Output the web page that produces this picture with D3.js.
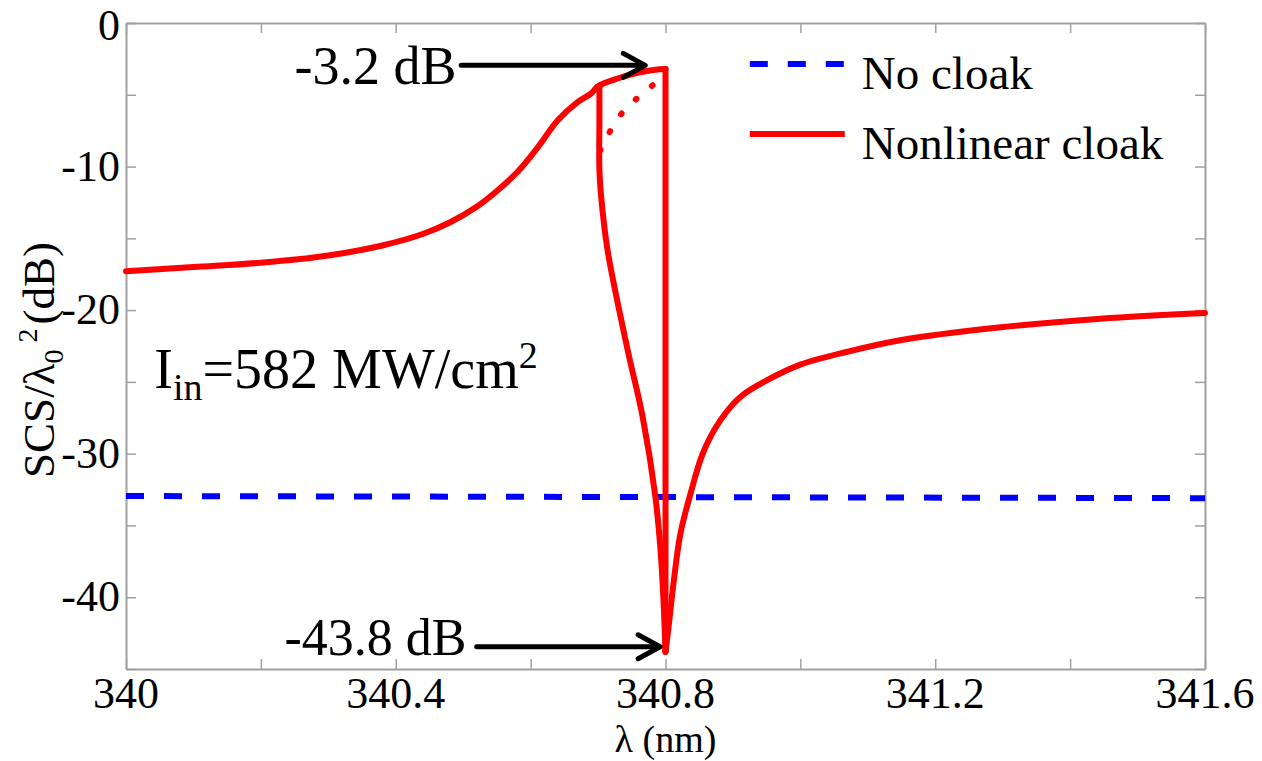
<!DOCTYPE html>
<html>
<head>
<meta charset="utf-8">
<script src="https://cdn.jsdelivr.net/npm/d3@7"></script>
<style>
  body { margin: 0; background: #fff; }
  svg { display: block; }
  text { font-family: "Liberation Serif", "Times New Roman", serif; fill: #000; }
</style>
</head>
<body>
<svg id="chart"></svg>
<script>
// upper (stable, high-scattering) branch, going up in wavelength
const upperLambda = [340, 340.1, 340.2, 340.3, 340.38, 340.44, 340.48, 340.52, 340.55, 340.58, 340.61, 340.64, 340.67, 340.69, 340.70, 340.73, 340.76, 340.785, 340.8];
const upperDb = [-17.3, -17.0, -16.7, -16.2, -15.5, -14.7, -13.9, -12.8, -11.7, -10.4, -8.7, -6.8, -5.5, -4.9, -4.4, -3.85, -3.45, -3.25, -3.2];

// jump down at 340.8
const jumpLambda = [340.8, 340.8];
const jumpDb = [-3.2, -43.8];

// after the jump, to the right
const rightLambda = [340.8, 340.804, 340.808, 340.813, 340.822, 340.837, 340.856, 340.881, 340.911, 340.95, 341.0, 341.07, 341.148, 341.297, 341.445, 341.6];
const rightDb = [-43.8, -42.3, -40.6, -38.6, -35.6, -32.8, -29.9, -27.7, -26.05, -24.9, -23.8, -22.9, -22.1, -21.2, -20.6, -20.2];

// lower branch going back down in wavelength
const lowerLambda = [340.8, 340.797, 340.7926, 340.785, 340.766, 340.744, 340.714, 340.705, 340.702, 340.702, 340.702];
const lowerDb = [-43.8, -40.2, -36.7, -33.0, -27.4, -22.8, -15.8, -12.3, -10.2, -6.8, -4.4];

// unstable branch (dotted)
const unstableLambda = [340.703, 340.73, 340.76, 340.79, 340.8];
const unstableDb = [-8.9, -6.6, -5.15, -3.95, -3.3];

const noCloakLambda = [340, 341.6];
const noCloakDb = [-32.95, -33.1];

const xTickValues = [340, 340.2, 340.4, 340.6, 340.8, 341, 341.2, 341.4, 341.6];
const xTickLabels = [340, 340.4, 340.8, 341.2, 341.6];
const yTickValues = [0, -5, -10, -15, -20, -25, -30, -35, -40, -45];
const yTickLabels = [0, -10, -20, -30, -40];

const legendNames = ["No cloak", "Nonlinear cloak"];

const margin = {top: 23, right: 57, bottom: 92, left: 126},
  width = 1262 - margin.left - margin.right,
  height = 761 - margin.top - margin.bottom;

const svgRoot = d3.select("#chart")
  .attr("width", 1262)
  .attr("height", 761);

const svg = svgRoot.append("g")
  .attr("transform", "translate(" + margin.left + "," + margin.top + ")");

const x = d3.scaleLinear().domain([340, 341.6]).range([0, width]);
const y = d3.scaleLinear().domain([-45, 0]).range([height, 0]);

const zip = (a, b) => a.map((v, i) => [v, b[i]]);

const line = d3.line()
  .x(d => x(d[0]))
  .y(d => y(d[1]))
  .curve(d3.curveCatmullRom.alpha(0.5));

const straight = d3.line()
  .x(d => x(d[0]))
  .y(d => y(d[1]));

// ticks inside the box, all four sides
const tickLen = 10;
const grey = "#a0a0a0";
const axes = svg.append("g");

axes.append("g")
  .attr("transform", `translate(0,${height})`)
  .call(d3.axisBottom(x).tickValues(xTickValues).tickSizeInner(-tickLen).tickSizeOuter(0).tickFormat(""));
axes.append("g")
  .call(d3.axisTop(x).tickValues(xTickValues).tickSizeInner(-tickLen).tickSizeOuter(0).tickFormat(""));
axes.append("g")
  .call(d3.axisLeft(y).tickValues(yTickValues).tickSizeInner(-tickLen).tickSizeOuter(0).tickFormat(""));
axes.append("g")
  .attr("transform", `translate(${width},0)`)
  .call(d3.axisRight(y).tickValues(yTickValues).tickSizeInner(-tickLen).tickSizeOuter(0).tickFormat(""));

axes.selectAll("path.domain").attr("stroke", grey).attr("stroke-width", 2);
axes.selectAll(".tick line").attr("stroke", grey).attr("stroke-width", 1.5);
axes.selectAll(".tick text").remove();

// tick labels
svg.selectAll(".xlab")
  .data(xTickLabels)
  .join("text")
  .attr("class", "xlab")
  .attr("x", d => x(d))
  .attr("y", height + 39)
  .attr("text-anchor", "middle")
  .attr("font-size", "44px")
  .text(d => d);

svg.selectAll(".ylab")
  .data(yTickLabels)
  .join("text")
  .attr("class", "ylab")
  .attr("x", -6)
  .attr("y", d => Math.max(y(d) + 14, 17))
  .attr("text-anchor", "end")
  .attr("font-size", "44px")
  .text(d => d);

// axis titles
svg.append("text")
  .attr("x", width / 2)
  .attr("y", height + 83)
  .attr("text-anchor", "middle")
  .attr("font-size", "38px")
  .text("λ (nm)");

const yTitle = svgRoot.append("text")
  .attr("transform", "translate(54,360) rotate(-90)")
  .attr("text-anchor", "middle")
  .attr("font-size", "45px");
yTitle.append("tspan").text("SCS/λ");
yTitle.append("tspan").attr("font-size", "28px").attr("dy", 9).text("0");
yTitle.append("tspan").attr("font-size", "28px").attr("dx", 7).attr("dy", -26).text("2");
yTitle.append("tspan").attr("dx", 4).attr("dy", 17).text("(dB)");

// curves
svg.append("path")
  .datum(zip(noCloakLambda, noCloakDb))
  .attr("fill", "none")
  .attr("stroke", "#0000ff")
  .attr("stroke-width", 6)
  .attr("stroke-dasharray", "18 20")
  .attr("d", straight);

const redCurves = svg.append("g")
  .attr("fill", "none")
  .attr("stroke", "#ff0000")
  .attr("stroke-width", 6)
  .attr("stroke-linejoin", "round")
  .attr("stroke-linecap", "round");

redCurves.append("path").datum(zip(upperLambda, upperDb)).attr("d", line);
redCurves.append("path").datum(zip(jumpLambda, jumpDb)).attr("d", straight);
redCurves.append("path").datum(zip(rightLambda, rightDb)).attr("d", line);
redCurves.append("path").datum(zip(lowerLambda, lowerDb)).attr("d", line);

svg.append("path")
  .datum(zip(unstableLambda, unstableDb))
  .attr("fill", "none")
  .attr("stroke", "#ff0000")
  .attr("stroke-width", 6)
  .attr("stroke-linecap", "round")
  .attr("stroke-dasharray", "1 20")
  .attr("d", line);

// annotations with arrows
function arrow(x1, x2, yy) {
  const g = svg.append("g")
    .attr("stroke", "#000")
    .attr("stroke-width", 5)
    .attr("fill", "none")
    .attr("stroke-linecap", "round")
    .attr("stroke-linejoin", "round");
  g.append("line").attr("x1", x1).attr("y1", yy).attr("x2", x2 - 2).attr("y2", yy);
  g.append("path").attr("d", `M${x2 - 22},${yy - 12}L${x2},${yy}L${x2 - 22},${yy + 12}`);
}

arrow(x(340.497), x(340.77), y(-2.95));
svg.append("text")
  .attr("x", x(340.49))
  .attr("y", y(-2.95) + 19)
  .attr("text-anchor", "end")
  .attr("font-size", "54px")
  .text("-3.2 dB");

arrow(x(340.52), x(340.792), y(-43.45));
svg.append("text")
  .attr("x", x(340.505))
  .attr("y", y(-43.45) + 8)
  .attr("text-anchor", "end")
  .attr("font-size", "52px")
  .text("-43.8 dB");

// intensity label
const iText = svg.append("text")
  .attr("x", x(340.042))
  .attr("y", y(-25.4))
  .attr("font-size", "56px");
iText.append("tspan").text("I");
iText.append("tspan").attr("font-size", "38px").attr("dy", 12).text("in");
iText.append("tspan").attr("dy", -12).text("=582 MW/cm");
iText.append("tspan").attr("font-size", "38px").attr("dy", -20).text("2");

// legend
const legend = svg.append("g").attr("transform", `translate(${x(340.925)},0)`);
const legendStyles = [
  {color: "#0000ff", dash: "18 20"},
  {color: "#ff0000", dash: null}
];
legendNames.forEach((name, i) => {
  const yy = 41 + i * 70;
  legend.append("line")
    .attr("x1", 0).attr("x2", 95)
    .attr("y1", yy).attr("y2", yy)
    .attr("stroke", legendStyles[i].color)
    .attr("stroke-width", 6)
    .attr("stroke-dasharray", legendStyles[i].dash);
  legend.append("text")
    .attr("x", 112)
    .attr("y", yy + 25)
    .attr("font-size", "47px")
    .text(name);
});
</script>
</body>
</html>
